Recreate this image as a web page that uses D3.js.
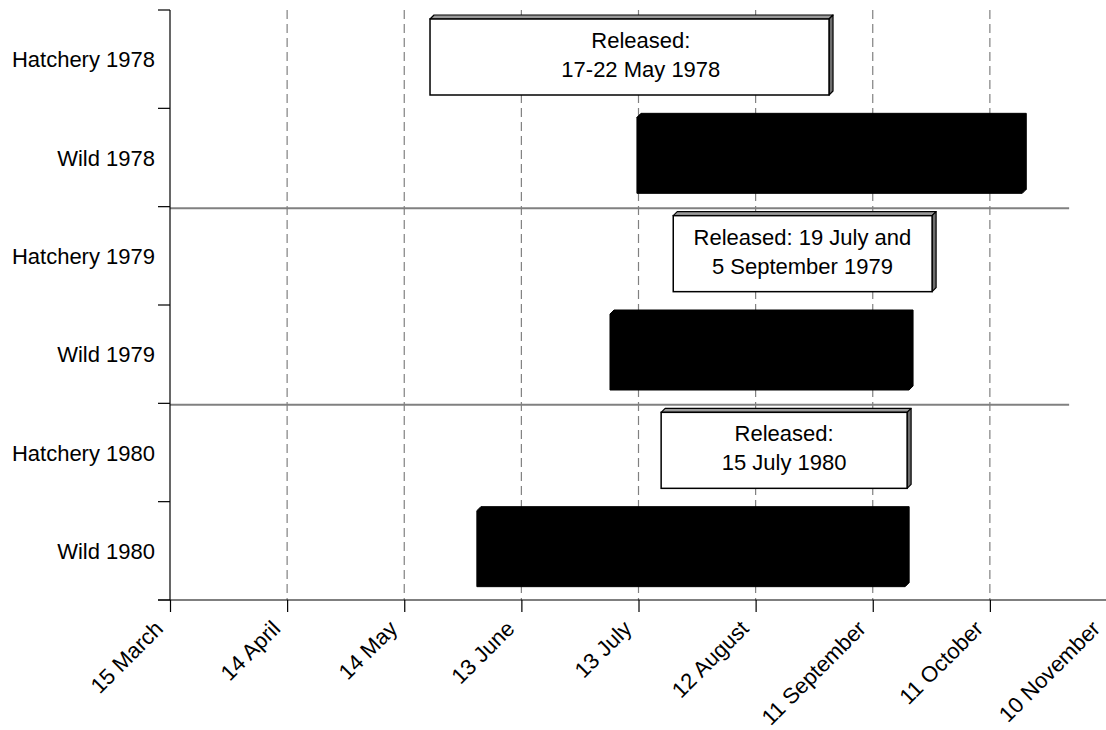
<!DOCTYPE html>
<html>
<head>
<meta charset="utf-8">
<script src="https://cdn.jsdelivr.net/npm/d3@7"></script>
<style>
  html, body { margin: 0; padding: 0; background: #fff; }
  svg { display: block; font-family: Arial, "Liberation Sans", sans-serif; }
</style>
</head>
<body>
<svg id="chart" width="1106" height="730"></svg>
<script>
// ---- data (days after 15 March) ----
const categories = ["Hatchery 1978", "Wild 1978", "Hatchery 1979", "Wild 1979", "Hatchery 1980", "Wild 1980"];
const barKind    = ["hatchery", "wild", "hatchery", "wild", "hatchery", "wild"];
const startDay   = [66.6, 119.6, 128.9, 112.7, 125.8, 78.6];
const endDay     = [168.8, 218.3, 195.2, 189.3, 188.8, 188.3];
const releaseText = [
  ["Released:", "17-22 May 1978"],
  null,
  ["Released: 19 July and", "5 September 1979"],
  null,
  ["Released:", "15 July 1980"],
  null
];
const releaseTextDay = [120.6, null, 162.0, null, 157.3, null];
const tickDays   = [0, 30, 60, 90, 120, 150, 180, 210, 240];
const tickLabels = ["15 March", "14 April", "14 May", "13 June", "13 July", "12 August", "11 September", "11 October", "10 November"];
const yearSeparators = ["Hatchery 1979", "Hatchery 1980"];
const separatorEndDay = 230.3;

const rows = categories.map((c, i) => ({
  cat: c, kind: barKind[i], s: startDay[i], e: endDay[i], text: releaseText[i], tday: releaseTextDay[i]
}));

const svg = d3.select("#chart");
const x = d3.scaleLinear().domain([0, 240]).range([170, 1107]);
const y = d3.scaleBand().domain(categories).range([10, 600]).paddingInner(0).paddingOuter(0);
const bw = y.bandwidth();
const FS = 22;

// dashed vertical gridlines
svg.append("g").selectAll("line")
  .data(tickDays.filter(d => d > 0))
  .join("line")
  .attr("x1", d => x(d)).attr("x2", d => x(d))
  .attr("y1", 10).attr("y2", 600)
  .attr("stroke", "#808080").attr("stroke-width", 1.2)
  .attr("stroke-dasharray", "9,5");

// year separators
svg.append("g").selectAll("line")
  .data(yearSeparators)
  .join("line")
  .attr("x1", x(0)).attr("x2", x(separatorEndDay))
  .attr("y1", d => y(d) + 1.5).attr("y2", d => y(d) + 1.5)
  .attr("stroke", "#808080").attr("stroke-width", 2);

// bars with 3D depth
const D = 4;
const barG = svg.append("g");
rows.forEach(r => {
  const x0 = x(r.s), x1 = x(r.e);
  const y0 = y(r.cat) + 5, y1 = y(r.cat) + 85;
  if (r.kind === "wild") {
    barG.append("path")
      .attr("d", `M${x0},${y0 + D}L${x0 + D},${y0}L${x1 + D},${y0}L${x1 + D},${y1 - D}L${x1},${y1}L${x0},${y1}Z`)
      .attr("fill", "#000").attr("stroke", "#000").attr("stroke-width", 1);
  } else {
    barG.append("path")
      .attr("d", `M${x0},${y0 + D}L${x0 + D},${y0}L${x1 + D},${y0}L${x1},${y0 + D}Z`)
      .attr("fill", "#9a9a9a").attr("stroke", "#000").attr("stroke-width", 1.2).attr("stroke-linejoin", "round");
    barG.append("path")
      .attr("d", `M${x1},${y0 + D}L${x1 + D},${y0}L${x1 + D},${y1 - D}L${x1},${y1}Z`)
      .attr("fill", "#6e6e6e").attr("stroke", "#000").attr("stroke-width", 1.2).attr("stroke-linejoin", "round");
    barG.append("rect")
      .attr("x", x0).attr("y", y0 + D)
      .attr("width", x1 - x0).attr("height", y1 - y0 - D)
      .attr("fill", "#fff").attr("stroke", "#000").attr("stroke-width", 1.5);
    if (r.text) {
      const cx = r.tday != null ? x(r.tday) : (x0 + x1) / 2;
      const cy = (y0 + D + y1) / 2;
      barG.append("text")
        .attr("x", cx).attr("y", cy - 9)
        .attr("text-anchor", "middle").attr("font-size", FS).attr("fill", "#000")
        .text(r.text[0]);
      barG.append("text")
        .attr("x", cx).attr("y", cy + 20)
        .attr("text-anchor", "middle").attr("font-size", FS).attr("fill", "#000")
        .text(r.text[1]);
    }
  }
});

// y axis
const yAxisG = svg.append("g");
yAxisG.append("line")
  .attr("x1", x(0)).attr("x2", x(0)).attr("y1", 10).attr("y2", 600)
  .attr("stroke", "#000").attr("stroke-width", 1.2);
const boundaries = categories.map(c => y(c)).concat([600]);
yAxisG.selectAll("line.tick")
  .data(boundaries)
  .join("line").attr("class", "tick")
  .attr("x1", x(0) - 12).attr("x2", x(0))
  .attr("y1", d => d).attr("y2", d => d)
  .attr("stroke", "#000").attr("stroke-width", 1.2);
yAxisG.selectAll("text")
  .data(categories)
  .join("text")
  .attr("x", 155)
  .attr("y", d => y(d) + bw / 2 + 8)
  .attr("text-anchor", "end").attr("font-size", FS).attr("fill", "#000")
  .text(d => d);

// x axis
const xAxis = d3.axisBottom(x)
  .tickValues(tickDays)
  .tickFormat((d, i) => tickLabels[i])
  .tickSize(12)
  .tickSizeOuter(0);
const xg = svg.append("g").attr("transform", "translate(0,600)").call(xAxis);
xg.select(".domain").remove();
xg.selectAll(".tick line").attr("stroke", "#000").attr("stroke-width", 1.2);
xg.append("line")
  .attr("x1", x(0) - 12).attr("x2", 1106).attr("y1", 0).attr("y2", 0)
  .attr("stroke", "#000").attr("stroke-width", 1.2);
xg.selectAll(".tick text")
  .attr("x", 0).attr("y", 0).attr("dy", null)
  .attr("transform", "translate(-6,30) rotate(-45)")
  .attr("text-anchor", "end")
  .attr("font-size", FS)
  .attr("font-family", "Arial, 'Liberation Sans', sans-serif")
  .attr("fill", "#000");
</script>
</body>
</html>
